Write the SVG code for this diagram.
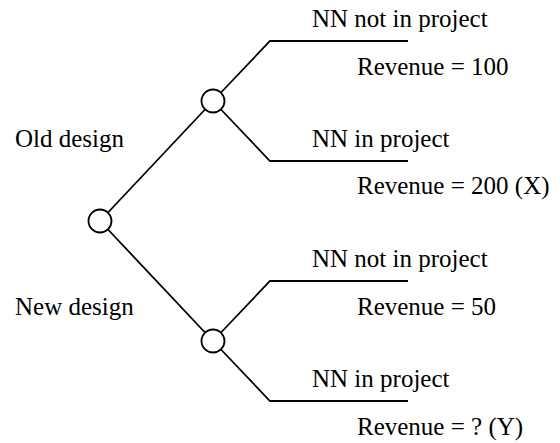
<svg xmlns="http://www.w3.org/2000/svg" width="560" height="443" viewBox="0 0 560 443">
<style>
text{font-family:"Liberation Serif","Times New Roman",serif;font-size:25px;fill:#000}
.e{fill:none;stroke:#000;stroke-width:1.8}
.n{fill:#fff;stroke:#000;stroke-width:1.8}
</style>
<rect width="560" height="443" fill="#fff"/>
<g id="connectors">
<line class="e" x1="108" y1="212.5" x2="205" y2="109.5"/>
<line class="e" x1="108" y1="229.5" x2="205" y2="332.5"/>
<polyline class="e" points="221,92.5 270,41 408,41"/>
<polyline class="e" points="221,109.5 270,161 408,161"/>
<polyline class="e" points="221,332.5 270,281 408,281"/>
<polyline class="e" points="221,349.5 270,401 408,401"/>
</g>
<g id="root"><circle class="n" cx="100" cy="221" r="11.5"/></g>
<g id="old"><circle class="n" cx="213" cy="101" r="11.5"/></g>
<g id="new"><circle class="n" cx="213" cy="341" r="11.5"/></g>
<g id="labels">
<text x="15" y="147">Old design</text>
<text x="15" y="315">New design</text>
<text x="312" y="27">NN not in project</text>
<text x="357" y="75">Revenue = 100</text>
<text x="312" y="147">NN in project</text>
<text x="357" y="194">Revenue = 200 (X)</text>
<text x="312" y="267">NN not in project</text>
<text x="357" y="315">Revenue = 50</text>
<text x="312" y="387">NN in project</text>
<text x="357" y="435">Revenue = ? (Y)</text>
</g>
</svg>
